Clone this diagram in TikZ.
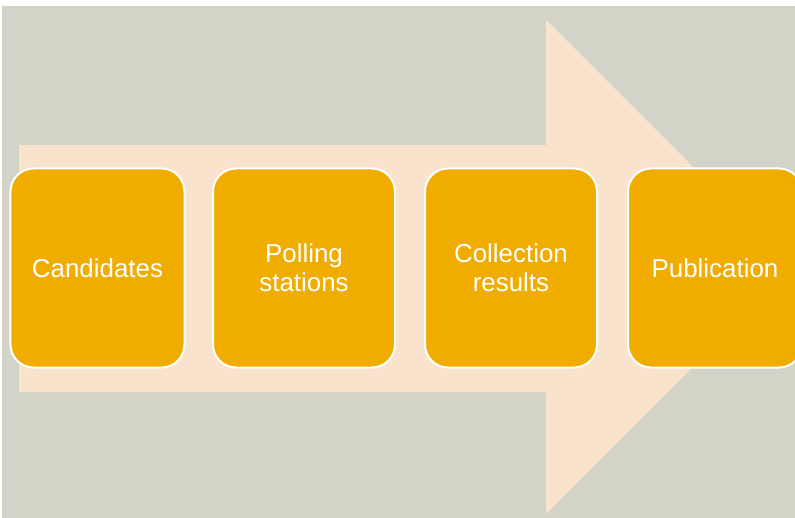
\documentclass[tikz,border=0pt]{standalone}
\usepackage{fontspec}
\setmainfont{Liberation Sans}
\usetikzlibrary{positioning}

\definecolor{bggray}{HTML}{D3D3C7}
\definecolor{arrowpeach}{HTML}{FAE3CC}
\definecolor{stepgold}{HTML}{F0AD00}

\tikzset{
  stagebox/.style={rectangle, rounded corners=23bp, draw=white, line width=2bp,
    fill=stepgold, text=white, minimum width=174bp, minimum height=199bp,
    align=center, font=\fontsize{26}{29}\selectfont, inner sep=0pt}
}

\begin{document}
\begin{tikzpicture}[x=1bp, y=-1bp]
        \useasboundingbox (0,0) rectangle (795,518);
        \clip (0,0) rectangle (795,518);
        \fill[bggray] (2,6) rectangle (795,518);
        % big arrow behind the stages
        \fill[arrowpeach] (19,145) -- (546,145) -- (546,20) -- (793,267)
            -- (546,514) -- (546,392) -- (19,392) -- cycle;

        \node[stagebox] (candidates) at (97.5,268) {Candidates};
        \node[stagebox, minimum width=182bp] (polling) at (304,268) {Polling\\stations};
        \node[stagebox, minimum width=172bp] (collection) at (511,268) {Collection\\results};
        \node[stagebox] (publication) at (715,268) {Publication};
    \end{tikzpicture}
\end{document}
